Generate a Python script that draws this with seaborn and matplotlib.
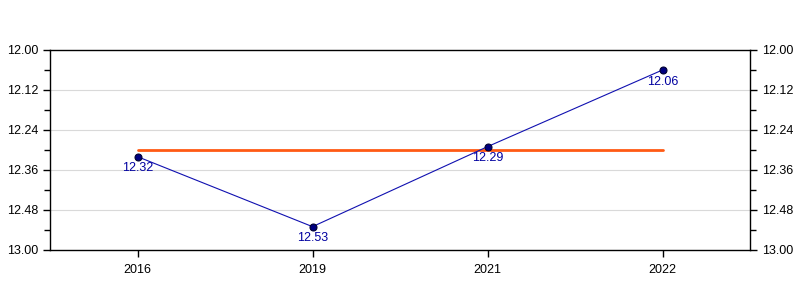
import matplotlib
matplotlib.use("Agg")
import matplotlib.pyplot as plt
import seaborn as sns
import pandas as pd
from matplotlib.ticker import FixedLocator, MultipleLocator

years = ["2016", "2019", "2021", "2022"]
values = [12.32, 12.53, 12.29, 12.06]
mean_value = [12.30, 12.30]
ytick_values = [12.00, 12.12, 12.24, 12.36, 12.48, 12.60]
ytick_labels = ["12.00", "12.12", "12.24", "12.36", "12.48", "13.00"]

sns.set_theme(style="white")
plt.rcParams["font.family"] = ["Liberation Sans", "DejaVu Sans"]

df = pd.DataFrame({"pos": range(len(years)), "year": years, "value": values})
ref = pd.DataFrame({"pos": [0, len(years) - 1], "value": mean_value})

fig = plt.figure(figsize=(8, 3), dpi=100)
ax = fig.add_axes([0.0625, 0.1667, 0.875, 0.6667])

for y in ytick_values[1:-1]:
    ax.axhline(y, color="#d9d9d9", lw=0.8, zorder=0)

sns.lineplot(data=ref, x="pos", y="value", ax=ax, color="#ff5a14", lw=2, zorder=2)
sns.lineplot(data=df, x="pos", y="value", ax=ax, color="#1010b0", lw=0.8,
             marker="o", markersize=5, markerfacecolor="#000080",
             markeredgecolor="#000030", markeredgewidth=0.8, zorder=3, sort=False)

for p, v in zip(df["pos"], df["value"]):
    ax.annotate(f"{v:.2f}", (p, v), xytext=(0, -4), textcoords="offset points",
                ha="center", va="top", fontsize=9, color="#0000a0", zorder=4)

ax.set_xlim(-0.5, len(years) - 0.5)
ax.set_ylim(12.60, 12.00)
ax.set_xticks(range(len(years)))
ax.set_xticklabels(years)
ax.yaxis.set_major_locator(FixedLocator(ytick_values))
ax.set_yticklabels(ytick_labels)
ax.yaxis.set_minor_locator(MultipleLocator(0.06))
ax.set_xlabel("")
ax.set_ylabel("")

for s in ax.spines.values():
    s.set_color("black")
    s.set_linewidth(1)

ax.tick_params(axis="both", which="both", direction="out", colors="black",
               labelsize=9, width=1)
ax.tick_params(axis="both", which="major", length=5)
ax.tick_params(axis="y", which="minor", length=4)
ax.tick_params(axis="y", which="both", left=True, right=True,
               labelleft=True, labelright=True)
ax.tick_params(axis="x", which="major", bottom=True, pad=5)
ax.tick_params(axis="x", which="minor", bottom=False)

fig.savefig("out.png", dpi=100)
